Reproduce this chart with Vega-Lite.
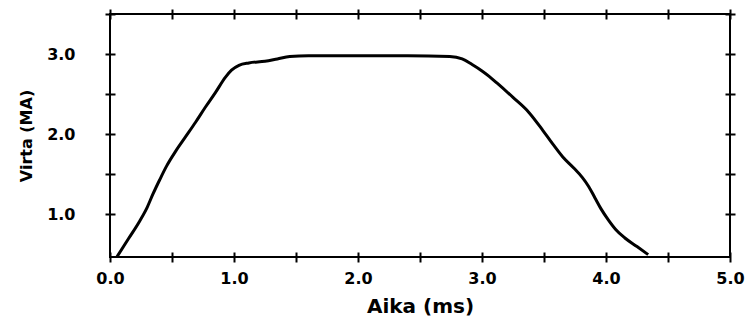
{
  "$schema": "https://vega.github.io/schema/vega-lite/v6.json",
  "autosize": "none",
  "width": 620,
  "height": 243,
  "padding": {"left": 110, "top": 14, "right": 18, "bottom": 64},
  "background": "white",
  "config": {
    "view": {"stroke": "black", "strokeWidth": 2},
    "axis": {
      "domain": false,
      "grid": false,
      "tickColor": "black",
      "tickWidth": 2,
      "tickSize": 10,
      "offset": -5,
      "labelFont": "DejaVu Sans",
      "labelFontWeight": "bold",
      "labelFontSize": 16,
      "labelColor": "black",
      "titleFont": "DejaVu Sans",
      "titleFontWeight": "bold",
      "titleColor": "black"
    }
  },
  "data": {
    "values": [
      {"t": 0.055, "i": 0.47},
      {"t": 0.15, "i": 0.70},
      {"t": 0.24, "i": 0.92},
      {"t": 0.30, "i": 1.09},
      {"t": 0.345, "i": 1.25},
      {"t": 0.40, "i": 1.43},
      {"t": 0.455, "i": 1.60},
      {"t": 0.53, "i": 1.79},
      {"t": 0.61, "i": 1.97},
      {"t": 0.69, "i": 2.15},
      {"t": 0.77, "i": 2.34},
      {"t": 0.85, "i": 2.52},
      {"t": 0.93, "i": 2.71},
      {"t": 0.98, "i": 2.80},
      {"t": 1.04, "i": 2.86},
      {"t": 1.12, "i": 2.89},
      {"t": 1.25, "i": 2.91},
      {"t": 1.35, "i": 2.94},
      {"t": 1.45, "i": 2.97},
      {"t": 1.60, "i": 2.98},
      {"t": 2.00, "i": 2.98},
      {"t": 2.40, "i": 2.98},
      {"t": 2.74, "i": 2.97},
      {"t": 2.84, "i": 2.94},
      {"t": 2.92, "i": 2.87},
      {"t": 3.00, "i": 2.79},
      {"t": 3.06, "i": 2.72},
      {"t": 3.12, "i": 2.64},
      {"t": 3.25, "i": 2.46},
      {"t": 3.38, "i": 2.27},
      {"t": 3.49, "i": 2.05},
      {"t": 3.57, "i": 1.88},
      {"t": 3.65, "i": 1.72},
      {"t": 3.74, "i": 1.58},
      {"t": 3.81, "i": 1.46},
      {"t": 3.86, "i": 1.35},
      {"t": 3.91, "i": 1.21},
      {"t": 3.96, "i": 1.07},
      {"t": 4.02, "i": 0.93},
      {"t": 4.08, "i": 0.81},
      {"t": 4.15, "i": 0.71},
      {"t": 4.25, "i": 0.60},
      {"t": 4.34, "i": 0.50}
    ]
  },
  "layer": [
    {
      "mark": {"type": "line", "color": "black", "strokeWidth": 3, "interpolate": "monotone", "clip": true},
      "encoding": {
        "x": {
          "field": "t", "type": "quantitative",
          "scale": {"domain": [0, 5], "nice": false, "zero": false},
          "axis": {
            "orient": "bottom",
            "title": "Aika (ms)",
            "titleFontSize": 20,
            "titlePadding": 10,
            "labelPadding": 8,
            "values": [0, 0.5, 1, 1.5, 2, 2.5, 3, 3.5, 4, 4.5, 5],
            "labelExpr": "datum.value % 1 === 0 ? format(datum.value, '.1f') : ''",
            "labelFlush": false,
            "labelOverlap": false
          }
        },
        "y": {
          "field": "i", "type": "quantitative",
          "scale": {"domain": [0.47, 3.5], "nice": false, "zero": false},
          "axis": {
            "orient": "left",
            "title": "Virta (MA)",
            "titleFontSize": 16,
            "titlePadding": 12,
            "labelPadding": 30,
            "values": [1, 1.5, 2, 2.5, 3, 3.5],
            "labelExpr": "datum.value % 1 === 0 ? format(datum.value, '.1f') : ''",
            "labelFlush": false,
            "labelOverlap": false
          }
        }
      }
    },
    {
      "mark": {"type": "line", "strokeOpacity": 0},
      "encoding": {
        "x": {
          "field": "t", "type": "quantitative",
          "scale": {"domain": [0, 5], "nice": false, "zero": false},
          "axis": {"orient": "top", "title": null, "labels": false, "values": [0, 0.5, 1, 1.5, 2, 2.5, 3, 3.5, 4, 4.5, 5]}
        },
        "y": {
          "field": "i", "type": "quantitative",
          "scale": {"domain": [0.47, 3.5], "nice": false, "zero": false},
          "axis": {"orient": "right", "title": null, "labels": false, "values": [1, 1.5, 2, 2.5, 3, 3.5]}
        }
      }
    }
  ],
  "resolve": {"axis": {"x": "independent", "y": "independent"}}
}
